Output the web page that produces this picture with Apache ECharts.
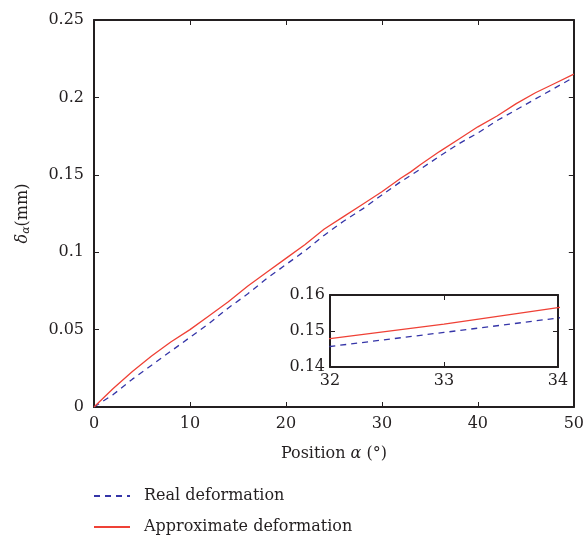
<!DOCTYPE html>
<html>
<head>
<meta charset="utf-8">
<script src="https://cdn.jsdelivr.net/npm/echarts@6/dist/echarts.min.js"></script>
<style>
  html, body { margin: 0; padding: 0; background: #fff; }
  #chart { width: 587px; height: 539px; }
</style>
</head>
<body>
<div id="chart"></div>
<script>
// position alpha (deg) and deformation values (mm)
var alpha = [0, 2, 4, 6, 8, 10, 12, 14, 16, 18, 20, 22, 24, 26, 28, 30, 32, 33, 34, 36, 38, 40, 42, 44, 46, 48, 50];
var realDef = [0, 0.008, 0.018, 0.027, 0.036, 0.045, 0.054, 0.064, 0.073, 0.083, 0.092, 0.101, 0.111, 0.120, 0.128, 0.137, 0.1457, 0.1496, 0.1536, 0.162, 0.170, 0.177, 0.185, 0.192, 0.199, 0.206, 0.213];
var approxDef = [0, 0.012, 0.023, 0.033, 0.042, 0.050, 0.059, 0.068, 0.078, 0.087, 0.096, 0.105, 0.115, 0.123, 0.131, 0.139, 0.1479, 0.1519, 0.1565, 0.165, 0.173, 0.181, 0.188, 0.196, 0.203, 0.209, 0.215];
var xTicks = [0, 10, 20, 30, 40, 50];
var yTicks = [0, 0.05, 0.1, 0.15, 0.2, 0.25];

var ink = '#231f20';
var blue = '#3535a8';
var red = '#ef4136';
var font = 'DejaVu Serif';
var fs = 16;

function pairs(ys) {
  return alpha.map(function (a, i) { return [a, ys[i]]; });
}

function boxAxis(extra) {
  var base = {
    type: 'value',
    axisLine: { show: true, onZero: false, lineStyle: { color: ink, width: 2 } },
    axisTick: { show: true, inside: true, length: 5, lineStyle: { color: ink, width: 1 } },
    splitLine: { show: false },
    axisLabel: { color: ink, fontFamily: font, fontSize: fs }
  };
  return Object.assign(base, extra);
}

var chartDom = document.getElementById('chart');
var myChart = echarts.init(chartDom);
var option;

option = {
  animation: false,
  backgroundColor: '#fff',
  legend: {
    orient: 'vertical',
    left: 93,
    top: 488,
    padding: 0,
    itemWidth: 36,
    itemHeight: 14,
    itemGap: 15,
    itemStyle: { opacity: 0 },
    textStyle: { color: ink, fontFamily: font, fontSize: fs, lineHeight: 16, padding: [0, 0, 0, 9] },
    data: ['Real deformation', 'Approximate deformation']
  },
  grid: [
    { left: 94, top: 20, width: 483, height: 387 },
    { left: 330, top: 295, width: 228, height: 72, show: true, backgroundColor: '#fff', borderWidth: 0, z: 5 }
  ],
  xAxis: [
    boxAxis({
      gridIndex: 0, min: 0, max: 50, interval: 10,
      name: 'Position {i|α} (°)', nameLocation: 'middle', nameGap: 39,
      nameTextStyle: {
        color: ink, fontFamily: font, fontSize: fs,
        rich: { i: { color: ink, fontFamily: font, fontSize: fs, fontStyle: 'italic' } }
      },
      axisLabel: { color: ink, fontFamily: font, fontSize: fs, margin: 9,
        formatter: function (v) { return xTicks.indexOf(v) >= 0 ? String(v) : ''; } }
    }),
    boxAxis({ gridIndex: 0, min: 0, max: 50, interval: 10, position: 'top', axisLabel: { show: false } }),
    boxAxis({
      gridIndex: 1, min: 32, max: 34, interval: 1, z: 6,
      axisLabel: { color: ink, fontFamily: font, fontSize: fs, margin: 6 }
    }),
    boxAxis({ gridIndex: 1, min: 32, max: 34, interval: 1, position: 'top', z: 6, axisLabel: { show: false } })
  ],
  yAxis: [
    boxAxis({
      gridIndex: 0, min: 0, max: 0.25, interval: 0.05,
      name: '{i|δ}{s|α}{d|(mm)}', nameLocation: 'middle', nameGap: 62,
      nameTextStyle: {
        color: ink, fontFamily: font, fontSize: fs,
        rich: {
          i: { color: ink, fontFamily: font, fontSize: fs, fontStyle: 'italic' },
          d: { color: ink, fontFamily: font, fontSize: fs, fontStyle: 'normal' },
          s: { color: ink, fontFamily: font, fontSize: 11, fontStyle: 'italic', verticalAlign: 'bottom', padding: [8, 0, 0, 0] }
        }
      },
      axisLabel: { color: ink, fontFamily: font, fontSize: fs, margin: 10,
        formatter: function (v) { return String(Math.round(v * 100) / 100); } }
    }),
    boxAxis({ gridIndex: 0, min: 0, max: 0.25, interval: 0.05, position: 'right', axisLabel: { show: false } }),
    boxAxis({
      gridIndex: 1, min: 0.14, max: 0.16, interval: 0.01, z: 6,
      axisLabel: { color: ink, fontFamily: font, fontSize: fs, margin: 5,
        formatter: function (v) { return v.toFixed(2); } }
    }),
    boxAxis({ gridIndex: 1, min: 0.14, max: 0.16, interval: 0.01, position: 'right', z: 6, axisLabel: { show: false } })
  ],
  series: [
    {
      name: 'Real deformation', type: 'line', xAxisIndex: 0, yAxisIndex: 0,
      data: pairs(realDef), symbol: 'none',
      lineStyle: { color: blue, width: 1.3, type: [6, 5] }, itemStyle: { color: blue }
    },
    {
      name: 'Approximate deformation', type: 'line', xAxisIndex: 0, yAxisIndex: 0,
      data: pairs(approxDef), symbol: 'none',
      lineStyle: { color: red, width: 1.3 }, itemStyle: { color: red }
    },
    {
      name: 'Real deformation', type: 'line', xAxisIndex: 2, yAxisIndex: 2, z: 7,
      data: pairs(realDef), symbol: 'none', clip: true,
      lineStyle: { color: blue, width: 1.3, type: [6, 5] }, itemStyle: { color: blue }
    },
    {
      name: 'Approximate deformation', type: 'line', xAxisIndex: 2, yAxisIndex: 2, z: 7,
      data: pairs(approxDef), symbol: 'none', clip: true,
      lineStyle: { color: red, width: 1.3 }, itemStyle: { color: red }
    }
  ]
};

option && myChart.setOption(option);
</script>
</body>
</html>
